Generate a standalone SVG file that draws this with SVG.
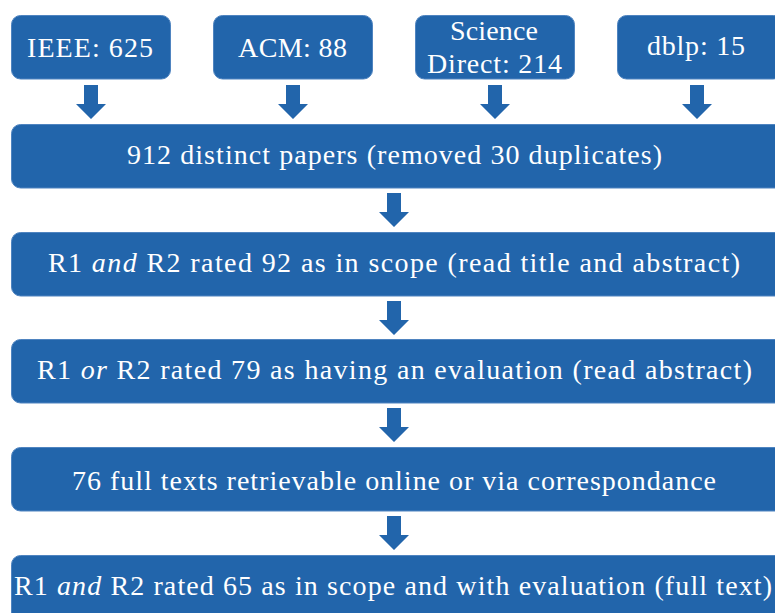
<svg xmlns="http://www.w3.org/2000/svg" width="775" height="613" viewBox="0 0 775 613">
<defs>
<style>
.box{fill:#2265ab;stroke:#4f84c0;stroke-width:1}
.lbl{fill:#ffffff;font-size:28px;text-anchor:middle}
.it{font-style:italic}
.arr{fill:#2265ab}
</style>
<path id="ar" d="M-7,0 H7 V19 H15 L0,34 L-15,19 H-7 Z"/>
</defs>
<rect width="775" height="613" fill="#ffffff"/>
<g font-family="'Liberation Serif', 'Times New Roman', 'DejaVu Serif', 'Noto Serif', serif">
<g id="ieee"><rect class="box" x="11.5" y="15.5" width="159" height="63.5" rx="9"/><text class="lbl" x="90" y="57" textLength="126">IEEE: 625</text></g>
<g id="acm"><rect class="box" x="213.5" y="15.5" width="159" height="63.5" rx="9"/><text class="lbl" x="292.5" y="57" textLength="109">ACM: 88</text></g>
<g id="sciencedirect"><rect class="box" x="415.5" y="15.5" width="159" height="63.5" rx="9"/><text class="lbl" x="494" y="40" textLength="88">Science</text><text class="lbl" x="494.5" y="73" textLength="135">Direct: 214</text></g>
<g id="dblp"><rect class="box" x="617.5" y="15.5" width="165" height="63.5" rx="9"/><text class="lbl" x="696" y="55" textLength="98">dblp: 15</text></g>
<g id="distinct"><rect class="box" x="11.5" y="124.5" width="775" height="63.5" rx="9"/><text class="lbl" x="394.5" y="164" textLength="535">912 distinct papers (removed 30 duplicates)</text></g>
<g id="scope"><rect class="box" x="11.5" y="232.5" width="775" height="63.5" rx="9"/><text class="lbl" x="394" y="272" textLength="692">R1 <tspan class="it">and</tspan> R2 rated 92 as in scope (read title and abstract)</text></g>
<g id="evaluation"><rect class="box" x="11.5" y="339.5" width="775" height="63.5" rx="9"/><text class="lbl" x="394.5" y="379" textLength="715">R1 <tspan class="it">or</tspan> R2 rated 79 as having an evaluation (read abstract)</text></g>
<g id="fulltexts"><rect class="box" x="11.5" y="447.5" width="775" height="63.5" rx="9"/><text class="lbl" x="394" y="490" textLength="644">76 full texts retrievable online or via correspondance</text></g>
<g id="final"><rect class="box" x="11.5" y="555.5" width="775" height="70" rx="9"/><text class="lbl" x="393" y="595" textLength="758">R1 <tspan class="it">and</tspan> R2 rated 65 as in scope and with evaluation (full text)</text></g>
</g>
<g id="connectors" class="arr">
<use href="#ar" x="91" y="85"/>
<use href="#ar" x="293" y="85"/>
<use href="#ar" x="495" y="85"/>
<use href="#ar" x="697" y="85"/>
<use href="#ar" x="394" y="193"/>
<use href="#ar" x="394" y="301"/>
<use href="#ar" x="394" y="408"/>
<use href="#ar" x="394" y="516"/>
</g>
</svg>
